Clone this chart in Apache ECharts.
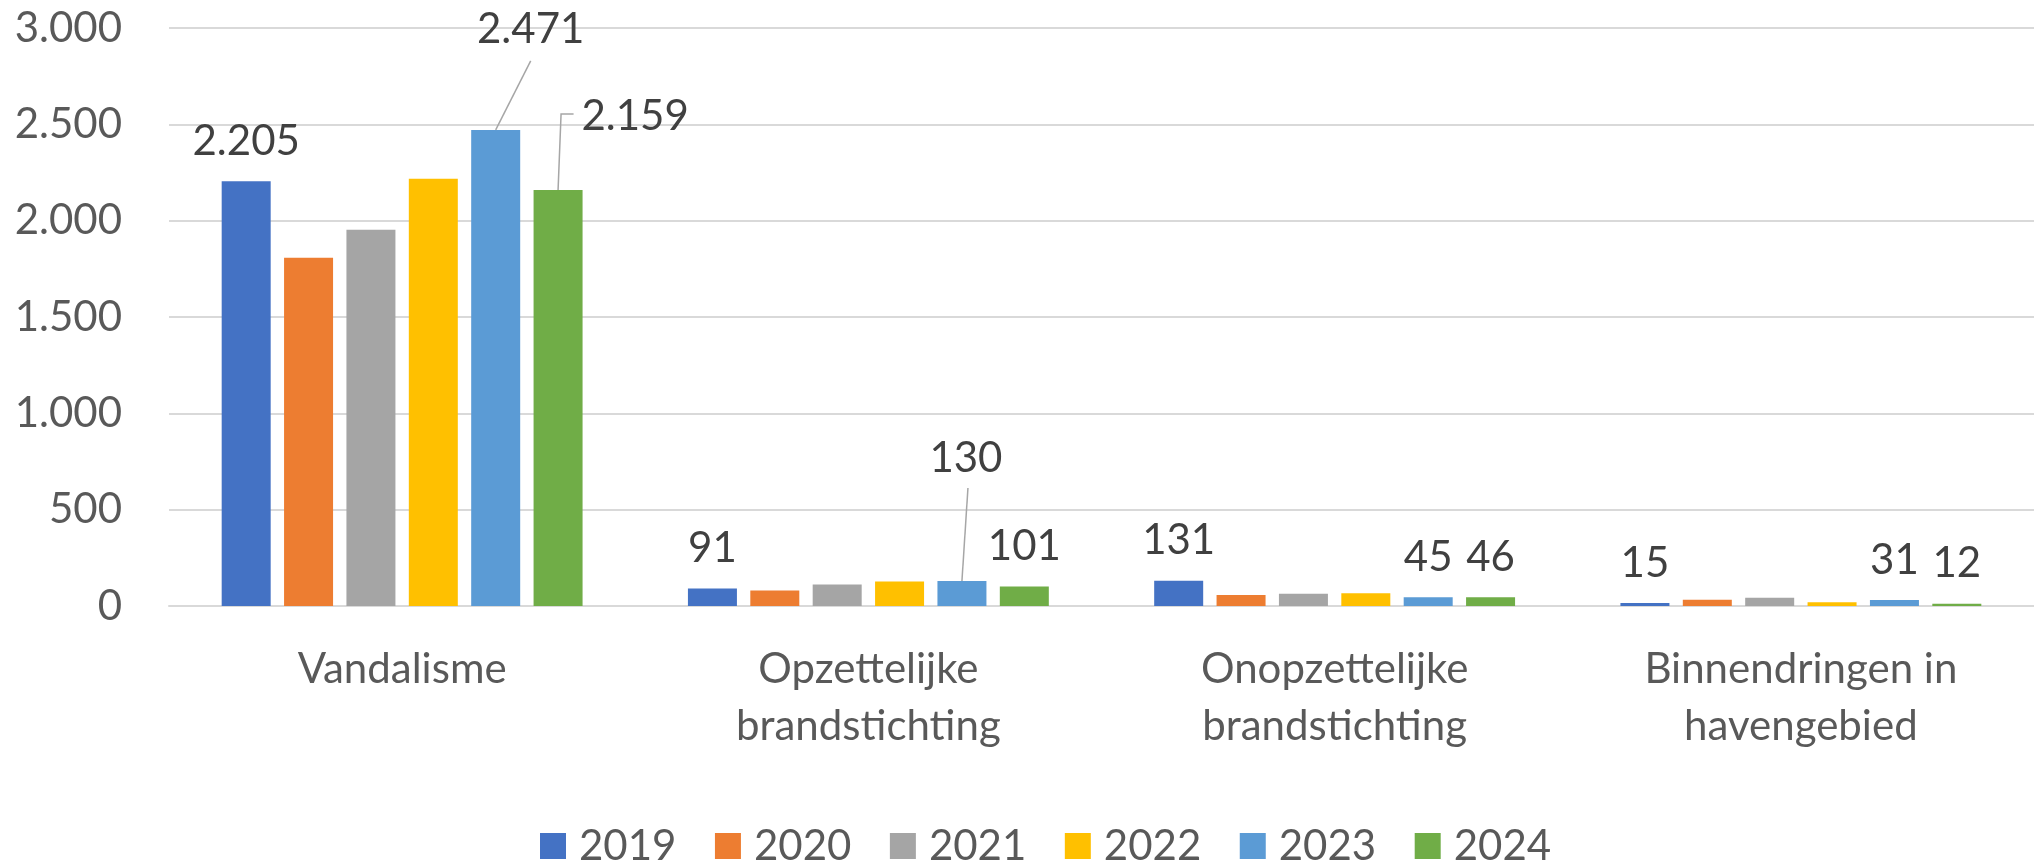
<!DOCTYPE html>
<html>
<head>
<meta charset="utf-8">
<script src="https://cdn.jsdelivr.net/npm/echarts@6/dist/echarts.min.js"></script>
<style>
html,body{margin:0;padding:0;background:#fff;}
#chart{width:2034px;height:864px;}
</style>
</head>
<body>
<div id="chart"></div>
<script>
// ---- data ----
const categories = ['Vandalisme', 'Opzettelijke\nbrandstichting', 'Onopzettelijke\nbrandstichting', 'Binnendringen in\nhavengebied'];
const years = ['2019', '2020', '2021', '2022', '2023', '2024'];
const v2019 = [2205, 91, 131, 15];
const v2020 = [1807, 80, 57, 33];
const v2021 = [1953, 111, 64, 43];
const v2022 = [2217, 127, 66, 19];
const v2023 = [2471, 130, 45, 31];
const v2024 = [2159, 101, 46, 12];
const yMin = 0, yMax = 3000, yStep = 500;
const labelledYears = ['2019', '2023', '2024'];

// ---- styles ----
const colors = ['#4472C4', '#ED7D31', '#A5A5A5', '#FFC000', '#5B9BD5', '#70AD47'];
const FONT = 'Lato, "Open Sans", sans-serif';
const FS = 42;
const fmt = v => String(v).replace(/\B(?=(\d{3})+(?!\d))/g, '.');

// moved labels: offsets relative to default label position (series -> dataIndex -> [dx, dy])
const moved = {
  '2023': {0: [35, -60], 1: [4, -83]},
  '2024': {0: [77, -34]}
};
// leader lines relative to bar top centre
const leaders = [
  {year: '2023', idx: 0, pts: [[0, 0], [35, -69]]},
  {year: '2023', idx: 1, pts: [[0, 0], [6, -93]]},
  {year: '2024', idx: 0, pts: [[0, 0], [3, -76], [15.5, -76]]}
];

const seriesValues = [v2019, v2020, v2021, v2022, v2023, v2024];

const chart = echarts.init(document.getElementById('chart'), null, {renderer: 'canvas'});

const series = years.map((y, i) => {
  const showLabel = labelledYears.indexOf(y) >= 0;
  const s = {
    name: y,
    type: 'bar',
    data: seriesValues[i],
    barWidth: 49,
    barGap: '27.3%',
    itemStyle: {color: colors[i]},
    emphasis: {disabled: true},
    label: {
      show: showLabel,
      position: 'top',
      distance: 19,
      formatter: p => fmt(p.value),
      fontFamily: FONT,
      fontSize: FS,
      lineHeight: FS,
      color: '#404040'
    }
  };
  if (moved[y]) {
    const m = moved[y];
    s.labelLayout = function (params) {
      const o = m[params.dataIndex];
      if (o) return {dx: o[0], dy: o[1]};
      return {};
    };
  }
  return s;
});

const option = {
  animation: false,
  color: colors,
  grid: {left: 169, top: 28, width: 1879, height: 578, containLabel: false},
  xAxis: {
    type: 'category',
    data: categories,
    axisLine: {show: true, lineStyle: {color: '#D9D9D9', width: 2}},
    axisTick: {show: false},
    axisLabel: {
      interval: 0,
      margin: 35,
      fontFamily: FONT,
      fontSize: FS,
      lineHeight: 57,
      color: '#595959',
      align: 'center'
    }
  },
  yAxis: {
    type: 'value',
    min: yMin,
    max: yMax,
    interval: yStep,
    axisLine: {show: false},
    axisTick: {show: false},
    splitLine: {lineStyle: {color: '#D9D9D9', width: 2}},
    axisLabel: {
      margin: 47,
      fontFamily: FONT,
      fontSize: FS,
      color: '#595959',
      formatter: v => fmt(v)
    }
  },
  legend: {
    data: years,
    left: 535,
    top: 820,
    itemWidth: 26,
    itemHeight: 26,
    itemGap: 38.5,
    icon: 'rect',
    textStyle: {
      fontFamily: FONT,
      fontSize: FS,
      lineHeight: 42,
      color: '#595959',
      padding: [0, 0, 0, 8]
    }
  },
  series: series
};

chart.setOption(option);

// leader lines from the library's own bar layout
const graphics = [];
leaders.forEach(L => {
  const si = years.indexOf(L.year);
  let bx, by;
  try {
    const data = chart.getModel().getSeriesByIndex(si).getData();
    const lay = data.getItemLayout(L.idx);
    bx = lay.x + lay.width / 2;
    by = Math.min(lay.y, lay.y + lay.height);
  } catch (e) {
    const p = chart.convertToPixel({seriesIndex: si}, [L.idx, seriesValues[si][L.idx]]);
    bx = p[0] + (si - 2.5) * (49 * 1.273);
    by = p[1];
  }
  graphics.push({
    type: 'polyline',
    silent: true,
    z: 10,
    shape: {points: L.pts.map(p => [bx + p[0], by + p[1]])},
    style: {stroke: '#A6A6A6', lineWidth: 1.5, fill: null}
  });
});
chart.setOption({graphic: graphics});
</script>
</body>
</html>
